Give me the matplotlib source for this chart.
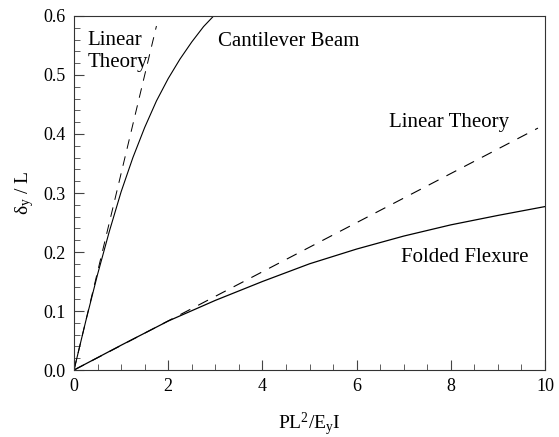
import numpy as np
import matplotlib
matplotlib.use("Agg")
import matplotlib.pyplot as plt
from matplotlib.ticker import MultipleLocator

plt.rcParams['font.family'] = ['Liberation Serif', 'DejaVu Serif']
plt.rcParams['mathtext.fontset'] = 'custom'
plt.rcParams['mathtext.rm'] = 'Liberation Serif'
plt.rcParams['mathtext.it'] = 'Liberation Serif'

## data

# cantilever beam, linear theory (dashed) and large deflection (solid)
cant_lin_x = [0.0, 1.75]
cant_lin_y = [0.0, 0.583]
cant_x = [0.0, 0.25, 0.5, 0.75, 1.0, 1.25, 1.5, 1.75, 2.0, 2.25, 2.5, 2.75, 3.0, 3.2]
cant_y = [0.0, 0.083, 0.162, 0.235, 0.302, 0.360, 0.411, 0.456, 0.494, 0.527, 0.556, 0.582, 0.603, 0.62]

# folded flexure, linear theory (dashed) and large deflection (solid)
fold_lin_x = [0.0, 9.85]
fold_lin_y = [0.0, 0.410]
fold_x = [0, 1, 2, 3, 4, 5, 6, 7, 8, 9, 10]
fold_y = [0.0, 0.042, 0.083, 0.118, 0.150, 0.180, 0.205, 0.227, 0.246, 0.262, 0.277]

fig = plt.figure(figsize=(5.59, 4.37), dpi=100)
ax = fig.add_axes([0.1324, 0.1533, 0.8426, 0.8101])

dash = (0, (10, 8))
ax.plot(cant_lin_x, cant_lin_y, color='k', lw=0.7, linestyle=dash)
ax.plot(cant_x, cant_y, color='k', lw=0.8)
ax.plot(fold_lin_x, fold_lin_y, color='k', lw=0.8, linestyle=dash)
ax.plot(fold_x, fold_y, color='k', lw=0.9)

ax.set_xlim(0, 10)
ax.set_ylim(0, 0.6)
ax.xaxis.set_major_locator(MultipleLocator(2))
ax.xaxis.set_minor_locator(MultipleLocator(0.5))
ax.yaxis.set_major_locator(MultipleLocator(0.1))
ax.yaxis.set_minor_locator(MultipleLocator(0.02))
ax.yaxis.set_major_formatter(matplotlib.ticker.FormatStrFormatter('%.1f'))
ax.tick_params(which='both', direction='in', top=False, right=False, labelsize=13, color='#444444')
ax.tick_params(which='major', length=7, width=0.8, pad=6)
ax.tick_params(which='minor', length=4, width=0.6)
for s in ax.spines.values():
    s.set_linewidth(0.8)
    s.set_color('#333333')

ax.set_xlabel(r'PL$^{2}$/E$_{\rm y}$I', fontsize=14, labelpad=11)
ax.set_ylabel(r'$\delta_{\rm y}$ / L', fontsize=14, labelpad=5)

lbl = dict(fontsize=15, va='center', ha='left')
ax.text(0.28, 0.540, 'Linear\nTheory', linespacing=1.25, **lbl)
ax.text(3.06, 0.556, 'Cantilever Beam', **lbl)
ax.text(6.68, 0.42, 'Linear Theory', **lbl)
ax.text(6.94, 0.19, 'Folded Flexure', **lbl)

fig.savefig('out.png', dpi=100)
